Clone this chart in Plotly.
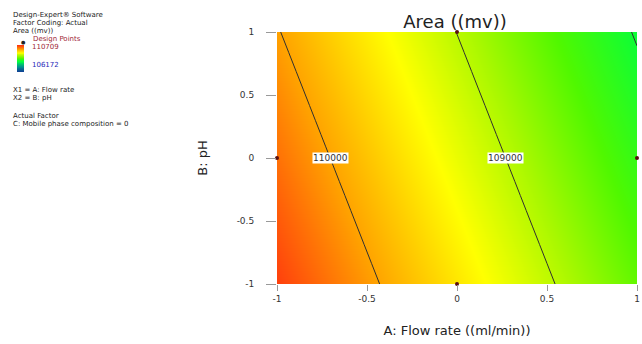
import numpy as np
import plotly.graph_objects as go

# ---- data ----
flow_rate = [-1, 0, 1]          # A (coded)
ph = [-1, 0, 1]                 # B (coded)
area = [                        # rows: pH, cols: flow rate
    [110585, 109559, 108533],
    [110303, 109277, 108251],
    [110021, 108995, 107969],
]
contour_levels = [108000, 109000, 110000]
label_levels = [110000, 109000]
area_min, area_max = 106172, 110709
design_a = [0, 0, -1, 1]
design_b = [1, -1, 0, 0]
tick_vals = [-1, -0.5, 0, 0.5, 1]
tick_text = ['-1', '-0.5', '0', '0.5', '1']

W, H = 642, 344
T, B = 32, 60
PL, PR = 277, 637            # plot area left/right in pixels
ph_px = H - T - B

def px(xp):
    return xp / W

def py(yp):
    return (H - B - yp) / ph_px

cscale = [
    [0.0, '#103c96'], [0.2, '#00988c'], [0.38, '#00ff40'], [0.5, '#50f800'],
    [0.6, '#a8f800'], [0.71, '#ffff00'], [0.85, '#ffa000'], [1.0, '#ff2a10'],
]
font = 'DejaVu Sans, Liberation Sans, Arial'

fig = go.Figure()
fig.add_trace(go.Contour(
    x=flow_rate, y=ph, z=area,
    zmin=area_min, zmax=area_max, zauto=False,
    colorscale=cscale, showscale=False,
    contours=dict(start=min(contour_levels), end=max(contour_levels), size=1000,
                  coloring='heatmap', showlabels=False),
    line=dict(color='#303030', width=1),
    hoverinfo='skip',
))
fig.add_trace(go.Scatter(
    x=design_a, y=design_b, mode='markers',
    marker=dict(color='#5a1010', size=4), cliponaxis=False, hoverinfo='skip',
))

# legend colour bar (gradient from min to max of the response)
bar_vals = np.linspace(area_min, area_max, 60)
fig.add_trace(go.Heatmap(
    z=[[v] for v in bar_vals], x=[0], y=list(range(len(bar_vals))),
    colorscale=cscale, zmin=area_min, zmax=area_max, showscale=False,
    xaxis='x2', yaxis='y2', hoverinfo='skip',
))

# contour labels where each level crosses pH = 0
mid_row = np.array(area[1], dtype=float)
for lvl in label_levels:
    xa = float(np.interp(lvl, mid_row[::-1], np.array(flow_rate, float)[::-1]))
    fig.add_annotation(x=xa, y=0, text=str(lvl), showarrow=False,
                       bgcolor='white', borderpad=0,
                       font=dict(family=font, size=9, color='#333333'))

left_lines = [
    ("Design-Expert® Software", 15, '#222222', 12),
    ("Factor Coding: Actual", 23, '#222222', 12),
    ("Area ((mv))", 31, '#222222', 12),
    ("Design Points", 39, '#a02838', 32),
    (str(area_max), 47, '#a02838', 31),
    (str(area_min), 65, '#2828b8', 31),
    ("X1 = A: Flow rate", 90, '#222222', 12),
    ("X2 = B: pH", 98, '#222222', 12),
    ("Actual Factor", 116, '#222222', 12),
    ("C: Mobile phase composition = 0", 124, '#222222', 12),
]
for txt, yp, col, xp in left_lines:
    fig.add_annotation(xref='paper', yref='paper', x=px(xp), y=py(yp),
                       xanchor='left', yanchor='middle', text=txt, showarrow=False,
                       borderpad=0, font=dict(family=font, size=7, color=col))
fig.add_annotation(xref='paper', yref='paper', x=px(20), y=py(38), text='●',
                   showarrow=False, borderpad=0, font=dict(size=5, color='#222222'))

fig.update_layout(
    width=W, height=H, margin=dict(l=0, r=0, t=T, b=B),
    paper_bgcolor='white', plot_bgcolor='white', showlegend=False,
    title=dict(text='Area ((mv))', xref='paper', x=px(455), xanchor='center',
               yref='container', y=1 - 22 / H, yanchor='middle',
               font=dict(family=font, size=18, color='#222222')),
    font=dict(family=font, size=9, color='#333333'),
    xaxis=dict(domain=[PL / W, PR / W], range=[-1, 1], tickvals=tick_vals, ticktext=tick_text,
               ticks='outside', ticklen=6, tickcolor='#999999', showgrid=False,
               zeroline=False, showline=False, automargin=False,
               title=dict(text='A: Flow rate ((ml/min))', standoff=23,
                          font=dict(family=font, size=13, color='#222222'))),
    yaxis=dict(domain=[0, 1], range=[-1, 1], tickvals=tick_vals, ticktext=tick_text,
               ticks='outside', ticklen=10, tickcolor='#999999', showgrid=False,
               zeroline=False, showline=False, automargin=False, ticklabelstandoff=10,
               title=dict(text='B: pH', standoff=26,
                          font=dict(family=font, size=13, color='#222222'))),
    xaxis2=dict(domain=[17 / W, 24 / W], anchor='y2', visible=False, fixedrange=True),
    yaxis2=dict(domain=[py(72), py(45)], anchor='x2', visible=False, fixedrange=True),
)

fig.write_html("out.html", config={'displayModeBar': False},
               post_script="document.body.style.margin='0';")
